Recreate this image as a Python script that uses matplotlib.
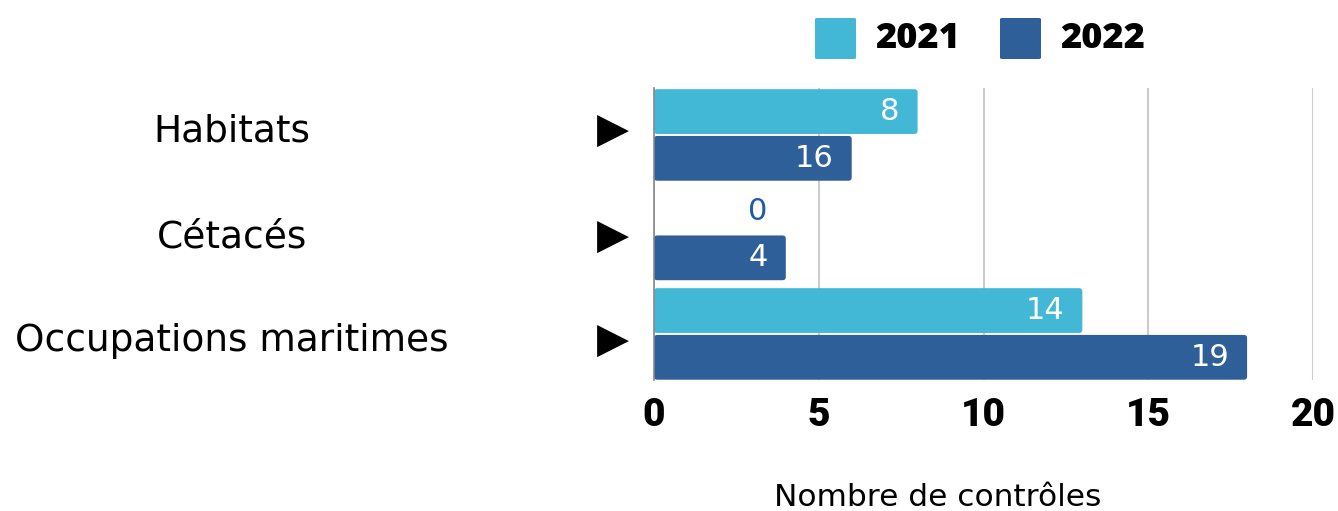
import matplotlib
matplotlib.use("Agg")
import matplotlib.pyplot as plt
from matplotlib.patches import FancyBboxPatch
import numpy as np

categories = ["Habitats", "Cétacés", "Occupations maritimes"]
series_names = ["2021", "2022"]
values_2021 = [8, 0, 13]
values_2022 = [6, 4, 18]
labels_2021 = ["8", "0", "14"]
labels_2022 = ["16", "4", "19"]
xticks = [0, 5, 10, 15, 20]
xlabel = "Nombre de contrôles"

c2021 = "#42B8D6"
c2022 = "#2E5F98"

fig = plt.figure(figsize=(13.38, 5.11), dpi=100)
ax = fig.add_axes([654 / 1338, 1 - 380 / 511, (1313 - 654) / 1338, (380 - 88) / 511])

y = np.arange(len(categories))
h = 0.45
off = 0.235
b1 = ax.barh(y - off, values_2021, height=h, color=c2021, zorder=3)
b2 = ax.barh(y + off, values_2022, height=h, color=c2022, zorder=3)

# rounded corners
for bars in (b1, b2):
    for p in bars:
        x0, y0, w, hh = p.get_x(), p.get_y(), p.get_width(), p.get_height()
        col = p.get_facecolor()
        p.set_visible(False)
        if w <= 0:
            continue
        r = FancyBboxPatch((x0, y0), w, hh, boxstyle="round,pad=0,rounding_size=0.1",
                           mutation_aspect=0.33, facecolor=col, edgecolor="none", zorder=3)
        ax.add_patch(r)

ax.set_xlim(0, 20)
ax.set_ylim(2.463, -0.472)

for s in ["top", "right", "bottom"]:
    ax.spines[s].set_visible(False)
ax.spines["left"].set_color("#888888")
ax.spines["left"].set_linewidth(1.2)
ax.spines["left"].set_zorder(4)

ax.set_xticks(xticks)
ax.xaxis.grid(True, color="#CCCCCC", linewidth=1.5, zorder=0)
ax.tick_params(axis="x", length=0, pad=12)
ax.set_yticks([])
for t in ax.get_xticklabels():
    t.set_fontfamily(["Roboto", "DejaVu Sans"])
    t.set_fontweight("black")
    t.set_fontsize(28)
    t.set_color("black")

# value labels
for vals, labs, yy in ((values_2021, labels_2021, y - off), (values_2022, labels_2022, y + off)):
    for i, (v, lab) in enumerate(zip(vals, labs)):
        if v == 0:
            xpos = max(values_2021[i], values_2022[i])
            color = "#1F5BAA"
        else:
            xpos = v
            color = "white"
        ax.annotate(lab, (xpos, yy[i]), xytext=(-13, 0), textcoords="offset points",
                    ha="right", va="center", fontsize=22, color=color,
                    fontfamily="DejaVu Sans", zorder=5)

# category labels and arrows
label_y_px = [131, 237, 341]
for i, cat in enumerate(categories):
    fig.text(232 / 1338, 1 - label_y_px[i] / 511, cat, ha="center", va="center",
             fontsize=27, fontfamily="DejaVu Sans", color="black")
    fig.text(613 / 1338, 1 - label_y_px[i] / 511, "\u25B6", ha="center", va="center",
             fontsize=30, fontfamily="DejaVu Sans", color="black")

fig.text(938 / 1338, 1 - 498 / 511, xlabel, ha="center", va="center",
         fontsize=22.5, fontfamily="DejaVu Sans", color="black")

# legend
leg_items = [(815, c2021, series_names[0]), (1000, c2022, series_names[1])]
for xpx, col, name in leg_items:
    fig.patches.append(FancyBboxPatch((xpx / 1338, 1 - 59 / 511), 41 / 1338, 41 / 511,
                                      boxstyle="round,pad=0,rounding_size=0.002",
                                      transform=fig.transFigure, facecolor=col,
                                      edgecolor="none", figure=fig))
    fig.text((xpx + 60) / 1338, 1 - 39 / 511, name, ha="left", va="center",
             fontsize=26, fontweight="heavy", fontfamily="Open Sans", color="black")

fig.savefig("out.png", dpi=100)
